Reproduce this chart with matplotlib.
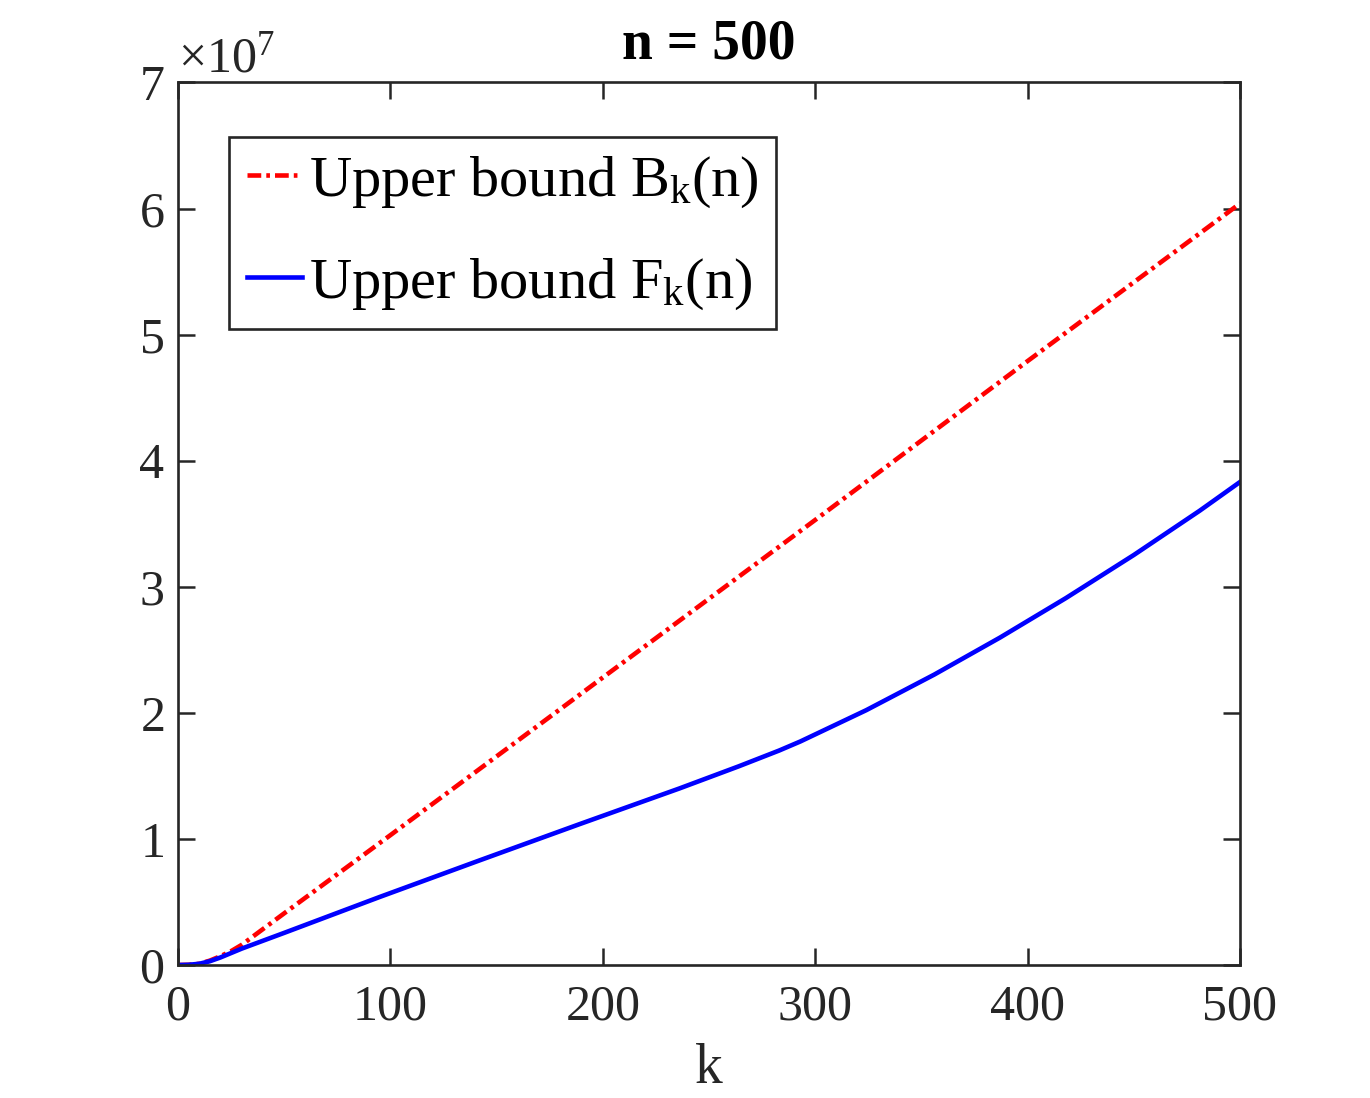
import numpy as np
import matplotlib
matplotlib.use('Agg')
import matplotlib.pyplot as plt
from matplotlib.ticker import ScalarFormatter

plt.rcParams['font.family'] = ['Liberation Serif', 'DejaVu Serif']
plt.rcParams['mathtext.fontset'] = 'custom'
plt.rcParams['mathtext.rm'] = 'Liberation Serif'
plt.rcParams['mathtext.it'] = 'Liberation Serif:italic'
plt.rcParams['mathtext.bf'] = 'Liberation Serif:bold'

# values
k_b = [0, 5, 10, 15, 20, 25, 30, 50, 100, 200, 300, 400, 500]
b_vals = [0, 0.002e7, 0.01e7, 0.035e7, 0.07e7, 0.11e7, 0.16e7, 0.41e7,
          1.03e7, 2.28e7, 3.53e7, 4.79e7, 6.04e7]

k_f = [0, 5, 10, 15, 20, 30, 50, 95, 142, 189, 236, 264, 283, 293, 324,
       356, 387, 418, 450, 481, 500]
f_vals = [0, 0.002e7, 0.01e7, 0.03e7, 0.06e7, 0.13e7, 0.255e7, 0.54e7,
          0.83e7, 1.117e7, 1.40e7, 1.576e7, 1.701e7, 1.773e7, 2.021e7,
          2.303e7, 2.597e7, 2.91e7, 3.252e7, 3.603e7, 3.831e7]

x_ticks = [0, 100, 200, 300, 400, 500]
y_ticks = [0, 1e7, 2e7, 3e7, 4e7, 5e7, 6e7, 7e7]

axis_col = '#262626'
tick_fs = 36
label_fs = 40
leg_fs = 42

fig = plt.figure(figsize=(13.7, 10.98), dpi=100)
ax = fig.add_axes([0.1299, 0.1211, 0.7752, 0.8038])

line_b, = ax.plot(k_b, b_vals, color='#FF0000', lw=3.3, linestyle='-.',
                  label=r'Upper bound B$_{\mathrm{k}}$(n)')
line_b.set_dashes((3.0, 1.1, 0.8, 1.1))
ax.plot(k_f, f_vals, color='#0000FF', lw=3.3, linestyle='-',
        label=r'Upper bound F$_{\mathrm{k}}$(n)')

ax.set_xlim(0, 500)
ax.set_ylim(0, 7e7)
ax.set_xticks(x_ticks)
ax.set_yticks(y_ticks)

fmt = ScalarFormatter(useMathText=True)
fmt.set_powerlimits((0, 0))
ax.yaxis.set_major_formatter(fmt)
ax.yaxis.OFFSETTEXTPAD = 8
ax.yaxis.get_offset_text().set_fontsize(tick_fs)
ax.yaxis.get_offset_text().set_color(axis_col)

ax.tick_params(axis='both', which='both', direction='in', length=12,
               width=1.8, colors=axis_col, labelsize=tick_fs,
               top=True, right=True, pad=10)
ax.tick_params(axis='x', pad=14)
for sp in ax.spines.values():
    sp.set_linewidth(1.9)
    sp.set_color(axis_col)

ax.set_xlabel('k', fontsize=label_fs, color=axis_col, labelpad=9)
ax.set_title('n = 500', fontsize=label_fs, fontweight='bold', pad=17)

leg = ax.legend(loc='upper left', bbox_to_anchor=(229 / 1370, 1 - 137 / 1098),
                bbox_transform=fig.transFigure, borderaxespad=0,
                fontsize=leg_fs, handlelength=0.95, handletextpad=0.12,
                borderpad=0.3, labelspacing=0.8, fancybox=False,
                framealpha=1, edgecolor=axis_col)
leg.get_frame().set_linewidth(1.9)

fig.savefig('out.png', dpi=100)
